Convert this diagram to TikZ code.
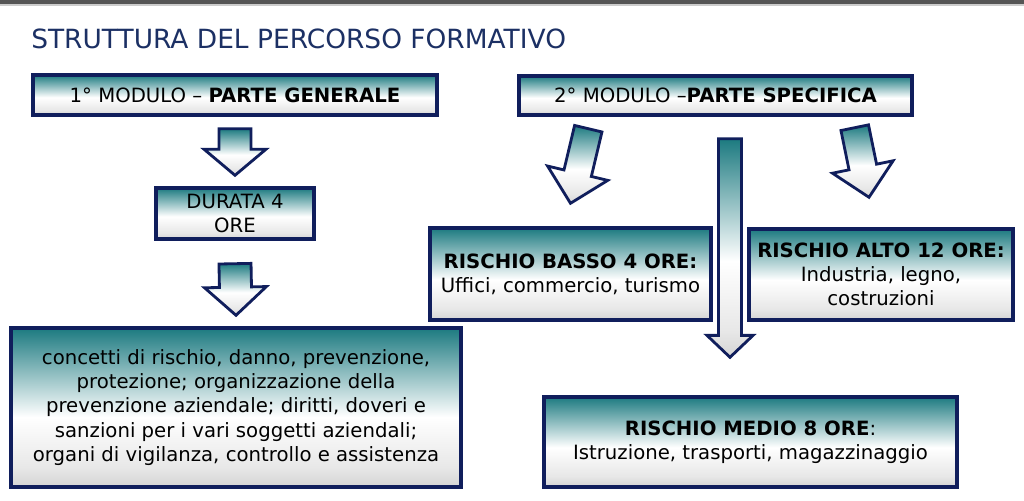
\documentclass[tikz,border=0pt]{standalone}
\usepackage{fontspec}
\setmainfont{DejaVu Sans}
\usetikzlibrary{positioning, calc}

\definecolor{navy}{RGB}{16,30,92}
\definecolor{tealtop}{RGB}{28,122,128}
\definecolor{fadegray}{RGB}{212,212,212}
\definecolor{titleblue}{RGB}{28,48,100}
\definecolor{bargray}{RGB}{85,85,85}

% path box is mapped onto 25bp..75bp
\pgfdeclareverticalshading{boxfade}{100bp}{color(0bp)=(fadegray); color(25bp)=(fadegray); color(31bp)=(fadegray!55!white); color(47bp)=(white); color(75bp)=(tealtop); color(100bp)=(tealtop)}

% #1 base, #2 tip, #3 shaft half width, #4 head half width, #5 head length
\newcommand\fatarrow[5]{%
  \coordinate (fa-h) at ($(#2)!#5!(#1)$);
  \path[arrowbody] ($(#1)!#3!90:(#2)$) -- ($(fa-h)!#3!90:(#2)$) -- ($(fa-h)!#4!90:(#2)$) -- (#2)
    -- ($(fa-h)!#4!-90:(#2)$) -- ($(fa-h)!#3!-90:(#2)$) -- ($(#1)!#3!-90:(#2)$) -- cycle;}

\begin{document}
\begin{tikzpicture}
	[x=0.025cm, y=-0.025cm,
	 align=center,
	 box/.style={draw=navy, line width=2.4pt, shade, shading=boxfade, inner sep=0pt,
	             font=\fontsize{14}{17.2}\selectfont},
	 arrowbody/.style={draw=navy, line width=2pt, shade, shading=boxfade, line join=miter}]

	\useasboundingbox (0,0) rectangle (1024,500);
	\fill[bargray] (0,0) rectangle (1024,4);
	\fill[gray!40] (0,4) rectangle (1024,5.5);

	\node[anchor=base west, inner sep=0pt, text=titleblue, font=\fontsize{18.8}{20}\selectfont] (title) at (31,48) {STRUTTURA DEL PERCORSO FORMATIVO};

	\node[box, minimum width=10.1cm, minimum height=1cm] (mod1) at (235,95) {1° MODULO – \textbf{PARTE GENERALE}};
	\node[box, minimum width=9.825cm, minimum height=0.975cm] (mod2) at (715.5,95.5) {2° MODULO –\textbf{PARTE SPECIFICA}};
	\node[box, minimum width=3.95cm, minimum height=1.275cm] (durata) at (235,213.5) {DURATA 4\\ORE};
	\node[box, minimum width=11.25cm, minimum height=3.975cm] (generale) at (236,407.5)
	  {concetti di rischio, danno, prevenzione,\\protezione; organizzazione della\\prevenzione aziendale; diritti, doveri e\\sanzioni per i vari soggetti aziendali;\\organi di vigilanza, controllo e assistenza};
	\node[box, minimum width=7.025cm, minimum height=2.3cm] (basso) at (570.5,274)
	  {\textbf{RISCHIO BASSO 4 ORE:}\\Uffici, commercio, turismo};
	\node[box, minimum width=6.6cm, minimum height=2.275cm] (alto) at (881,274.5)
	  {\textbf{RISCHIO ALTO 12 ORE:}\\Industria, legno,\\costruzioni};
	\node[box, minimum width=10.325cm, minimum height=2.25cm] (medio) at (750.5,442)
	  {\textbf{RISCHIO MEDIO 8 ORE}:\\Istruzione, trasporti, magazzinaggio};

	\coordinate (a1s) at ($(mod1.south)+(0,12)$);
	\coordinate (a1t) at ($(durata.north)+(0,-11)$);
	\coordinate (a2s) at ($(durata.south)+(0,23)$);
	\coordinate (a2t) at ($(generale.north)+(0,-11)$);
	\coordinate (a3s) at ($(mod2.south west)+(71,12)$);
	\coordinate (a3t) at ($(basso.north)+(0,-23)$);
	\coordinate (a4s) at ($(mod2.south)+(14.5,22)$);
	\coordinate (a4t) at ($(medio.north)+(-20.5,-38)$);
	\coordinate (a5s) at ($(mod2.south east)+(-59,11)$);
	\coordinate (a5t) at ($(alto.north)+(-12,-30)$);

	\fatarrow{a1s}{a1t}{11.4pt}{22pt}{18.5pt}
	\fatarrow{a2s}{a2t}{11.4pt}{22pt}{20pt}
	\fatarrow{a3s}{a3t}{10pt}{22pt}{22pt}
	\fatarrow{a4s}{a4t}{8.2pt}{16.4pt}{15.6pt}
	\fatarrow{a5s}{a5t}{10pt}{22pt}{22pt}
\end{tikzpicture}
\end{document}
